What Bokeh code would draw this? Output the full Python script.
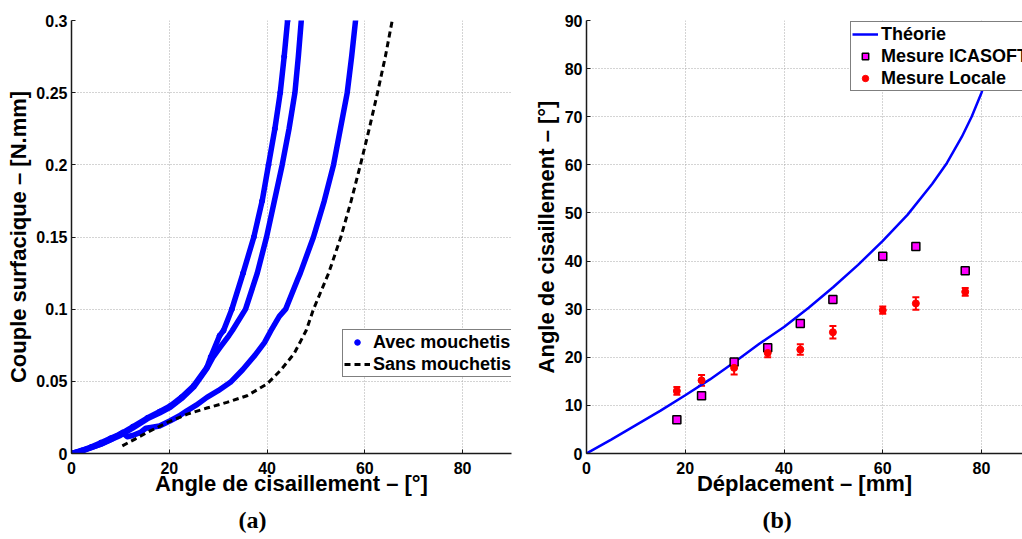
from bokeh.plotting import figure
from bokeh.layouts import row
from bokeh.models import (Range1d, FixedTicker, Legend, LegendItem, ColumnDataSource,
                          Whisker, TeeHead, Title)
from bokeh.embed import file_html
from bokeh.resources import INLINE

# ---------------- data: panel (a) ----------------
c1_x = [0, 2, 4, 6, 8, 10, 12.5, 15.5, 18, 20.2, 22.5, 25, 27.7, 28.5, 30.3, 31.1, 32.8, 35.1,
        37.3, 39.0, 40.3, 41.6, 42.7, 43.5, 44.2]
c1_y = [0, 0.002, 0.0045, 0.0075, 0.0105, 0.0135, 0.0185, 0.0246, 0.029, 0.033, 0.039, 0.047,
        0.0597, 0.067, 0.0817, 0.0852, 0.1, 0.125, 0.15, 0.175, 0.2, 0.225, 0.25, 0.275, 0.3]

c2_x = [0, 2, 4, 6, 8, 10, 12.5, 15.5, 18, 20.2, 22.5, 25, 27.7, 29, 30.5, 32.2, 32.9, 35.6,
        38.0, 39.9, 41.5, 43.1, 44.5, 45.7, 46.4, 47.0]
c2_y = [0, 0.0015, 0.004, 0.0065, 0.0095, 0.0125, 0.0175, 0.024, 0.028, 0.032, 0.038, 0.046,
        0.059, 0.067, 0.074, 0.0817, 0.0852, 0.1, 0.125, 0.15, 0.175, 0.2, 0.225, 0.25, 0.275, 0.3]

c3_x = [0, 2, 4, 6, 8, 9.5, 10.4, 11.4, 12.5, 14.1, 15.2, 16.2, 18, 20.2, 22, 23.6, 25.5, 27.7,
        30, 32.5, 35, 37.5, 39.5, 41.0, 42.5, 43.8, 46.3, 46.8, 49.5, 51.7, 53.6, 55.0, 56.4,
        57.3, 58.1]
c3_y = [0, 0.002, 0.004, 0.0065, 0.0095, 0.0125, 0.0146, 0.0116, 0.0125, 0.0146, 0.0175, 0.018,
        0.019, 0.0227, 0.026, 0.0296, 0.0335, 0.0389, 0.0435, 0.0493, 0.058, 0.068, 0.077,
        0.0864, 0.095, 0.1, 0.121, 0.125, 0.15, 0.175, 0.2, 0.225, 0.25, 0.275, 0.3]

sans_x = [10.4, 13, 15.5, 19.6, 23.7, 27.7, 31.8, 35.9, 40.0, 42.7, 45.5, 48.0, 49.5, 52.6,
          55.1, 57.2, 59.1, 60.9, 62.6, 64.2, 65.6]
sans_y = [0.0053, 0.010, 0.0146, 0.0215, 0.0273, 0.0315, 0.0354, 0.040, 0.0482, 0.0574, 0.069,
          0.0852, 0.1, 0.125, 0.15, 0.175, 0.2, 0.225, 0.25, 0.275, 0.3]

a_xticks = [0, 20, 40, 60, 80]
a_yticks = [0, 0.05, 0.1, 0.15, 0.2, 0.25, 0.3]
a_ytick_labels = ["0", "0.05", "0.1", "0.15", "0.2", "0.25", "0.3"]

# ---------------- data: panel (b) ----------------
theo_x = [0, 5, 10, 15, 20, 25, 30, 35, 40, 45, 50, 55, 60, 65, 70, 73, 76, 78, 80, 81, 82]
theo_y = [0, 2.9, 5.9, 8.9, 12.1, 15.4, 19.0, 22.8, 26.3, 30.3, 34.6, 39.2, 44.2, 49.6, 56.0,
          60.4, 65.8, 70.0, 75.0, 78.2, 83.5]

ica_x = [18.3, 23.3, 29.9, 36.7, 43.3, 49.9, 60.0, 66.7, 76.7]
ica_y = [7, 12, 19, 22, 27, 32, 41, 43, 38]

loc_x = [18.3, 23.3, 29.9, 36.7, 43.3, 49.9, 60.0, 66.7, 76.7]
loc_y = [13.0, 15.2, 17.8, 20.9, 21.6, 25.2, 29.8, 31.2, 33.6]
loc_err = [0.8, 1.1, 1.4, 0.9, 1.1, 1.3, 0.75, 1.3, 0.8]

b_xticks = [0, 20, 40, 60, 80]
b_yticks = [0, 10, 20, 30, 40, 50, 60, 70, 80, 90]

FONT = "Liberation Sans"
BLUE = "#0000ff"


def style(p, xticks, yticks, ylabels=None):
    p.outline_line_color = None
    p.background_fill_color = "white"
    p.border_fill_color = "white"
    p.xaxis.ticker = FixedTicker(ticks=xticks)
    p.yaxis.ticker = FixedTicker(ticks=yticks)
    if ylabels is not None:
        p.yaxis.major_label_overrides = {t: l for t, l in zip(yticks, ylabels)}
    for ax in (p.xaxis, p.yaxis):
        ax.axis_line_color = "#1a1a1a"
        ax.axis_line_width = 1.5
        ax.major_tick_line_color = "#1a1a1a"
        ax.major_tick_in = 4
        ax.major_tick_out = 0
        ax.minor_tick_line_color = None
        ax.major_label_text_font = FONT
        ax.major_label_text_font_style = "bold"
        ax.major_label_text_font_size = "16px"
        ax.major_label_text_color = "black"
        ax.major_label_standoff = 4
        ax.axis_label_text_font = FONT
        ax.axis_label_text_font_style = "bold"
        ax.axis_label_text_font_size = "22px"
        ax.axis_label_text_color = "black"
        ax.axis_label_standoff = 2
    p.xaxis.major_label_standoff = 8
    p.xaxis.axis_label_standoff = -6
    for g in (p.xgrid, p.ygrid):
        g.grid_line_color = "#a8a8a8"
        g.grid_line_dash = "1 2"
        g.grid_line_width = 1


def caption(p, text, offset):
    p.add_layout(Title(text=text, align="left", offset=offset, standoff=12,
                       text_font="Liberation Serif", text_font_size="24px",
                       text_font_style="bold", text_color="black"), "below")


# ---------------- panel (a) ----------------
pa = figure(width=530, height=539, output_backend="svg", toolbar_location=None,
            x_range=Range1d(0, 90), y_range=Range1d(0, 0.3),
            min_border_left=71, min_border_right=19, min_border_top=20, min_border_bottom=86,
            x_axis_label="Angle de cisaillement – [°]",
            y_axis_label="Couple surfacique – [N.mm]")
style(pa, a_xticks, a_yticks, a_ytick_labels)

for cx, cy in ((c3_x, c3_y), (c2_x, c2_y), (c1_x, c1_y)):
    pa.line(cx, cy, line_color=BLUE, line_width=5.5, line_join="round", line_cap="round")
r_avec = pa.scatter(c1_x, c1_y, marker="circle", size=5, fill_color=BLUE, line_color=BLUE)
r_sans = pa.line(sans_x, sans_y, line_color="black", line_width=3, line_dash="6 4")

leg_a = Legend(items=[LegendItem(label="Avec mouchetis", renderers=[r_avec]),
                      LegendItem(label="Sans mouchetis", renderers=[r_sans])],
               location=(271, 76), glyph_height=14)
pa.add_layout(leg_a)
caption(pa, "(a)", 167)

# ---------------- panel (b) ----------------
pb = figure(width=492, height=539, output_backend="svg", toolbar_location=None,
            x_range=Range1d(0, 88.3), y_range=Range1d(0, 90),
            min_border_left=56, min_border_right=0, min_border_top=20, min_border_bottom=86,
            x_axis_label="Déplacement – [mm]",
            y_axis_label="Angle de cisaillement – [°]")
style(pb, b_xticks, b_yticks)
pb.yaxis.axis_label_standoff = 3

r_theo = pb.line(theo_x, theo_y, line_color=BLUE, line_width=2.5)
r_ica = pb.scatter(ica_x, ica_y, marker="square", size=8, fill_color="#ff00ff",
                   line_color="black", line_width=1.5)
err_src = ColumnDataSource(dict(x=loc_x, y=loc_y,
                                upper=[v + e for v, e in zip(loc_y, loc_err)],
                                lower=[v - e for v, e in zip(loc_y, loc_err)]))
pb.add_layout(Whisker(source=err_src, base="x", upper="upper", lower="lower",
                      line_color="red", line_width=2,
                      upper_head=TeeHead(size=7, line_color="red", line_width=2),
                      lower_head=TeeHead(size=7, line_color="red", line_width=2)))
r_loc = pb.scatter("x", "y", source=err_src, marker="circle", size=7,
                   fill_color="red", line_color="red")

leg_b = Legend(items=[LegendItem(label="Théorie", renderers=[r_theo]),
                      LegendItem(label="Mesure ICASOFT", renderers=[r_ica]),
                      LegendItem(label="Mesure Locale", renderers=[r_loc])],
               location=(264, 362), glyph_height=16)
pb.add_layout(leg_b)
caption(pb, "(b)", 176)

for lg in (leg_a, leg_b):
    lg.border_line_color = "black"
    lg.border_line_width = 1.5
    lg.background_fill_color = "white"
    lg.background_fill_alpha = 1
    lg.label_text_font = FONT
    lg.label_text_font_style = "bold"
    lg.label_text_font_size = "18px"
    lg.label_text_color = "black"
    lg.padding = 1
    lg.spacing = 0
    lg.margin = 0
    lg.label_height = 22
    lg.glyph_width = 26
    lg.label_standoff = 3

layout = row(pa, pb)
open("out.html", "w").write(file_html(layout, INLINE))
